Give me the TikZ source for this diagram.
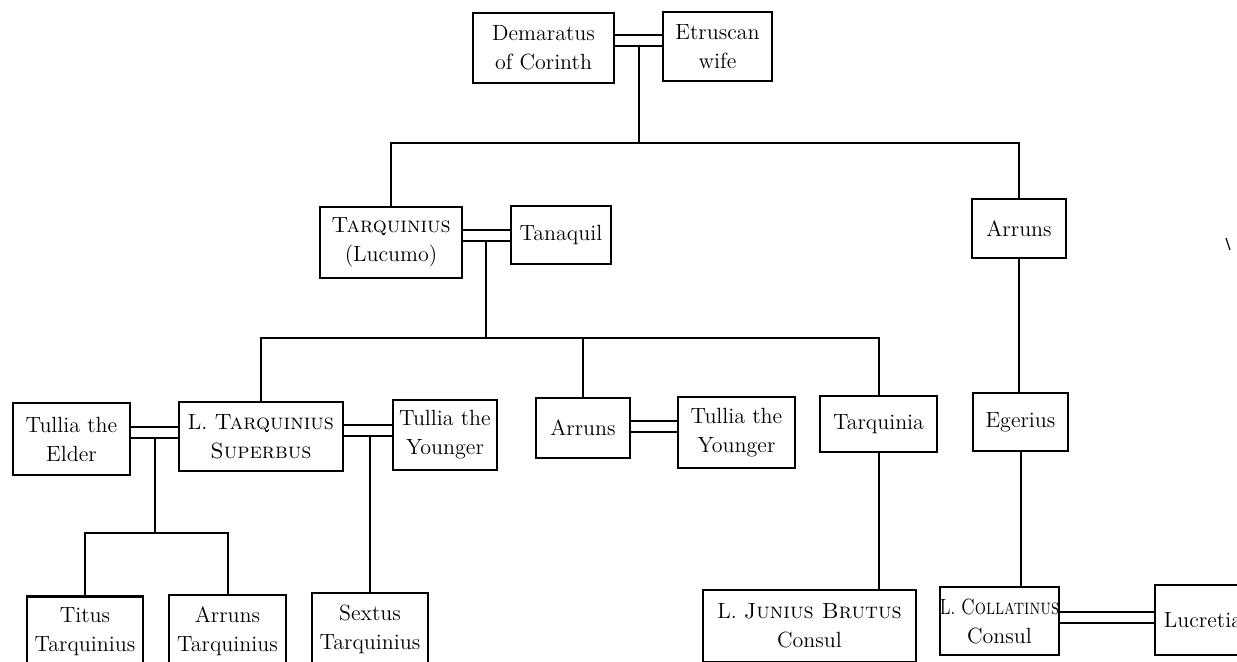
\documentclass[tikz,border=0pt]{standalone}
\usetikzlibrary{backgrounds}
\begin{document}
\begin{tikzpicture}[x=0.5pt,y=-0.5pt,
  person/.style={draw, line width=1.3pt, fill=white, inner ysep=0pt, inner xsep=2pt,
    align=center, font=\fontsize{11}{14.5}\selectfont},
  kin/.style={line width=1pt},
  wed/.style={line width=1pt, double=white, double distance=4.5pt}]
\path[use as bounding box, clip] (0,0) rectangle (1237,662);

% first generation
\node[person, minimum width=70.5pt, minimum height=35pt]   (dem)   at (543.5,48)  {Demaratus\\of Corinth};
\node[person, minimum width=54.5pt, minimum height=34.5pt] (etr)   at (717.5,46.5) {Etruscan\\wife};

% second generation
\node[person, minimum width=71pt,   minimum height=35.5pt] (tarq)  at (391,242.5) {\textsc{Tarquinius}\\(Lucumo)};
\node[person, minimum width=50pt,   minimum height=29pt]   (tana)  at (561,235)   {Tanaquil};
\node[person, minimum width=47pt,   minimum height=29.5pt] (arra)  at (1019,228.5) {Arruns};

% third generation
\node[person, minimum width=58.5pt, minimum height=36pt]   (elder) at (71.5,439)  {Tullia the\\Elder};
\node[person, minimum width=82pt,   minimum height=34.5pt] (sup)   at (261,436.5) {L. \textsc{Tarquinius}\\\textsc{Superbus}};
\node[person, minimum width=52pt,   minimum height=35pt]   (tyl)   at (445,435)   {Tullia the\\Younger};
\node[person, minimum width=47pt,   minimum height=30pt]   (arrb)  at (583,428)   {Arruns};
\node[person, minimum width=58.5pt, minimum height=35.5pt] (tyr)   at (736.5,432.5) {Tullia the\\Younger};
\node[person, minimum width=58.5pt, minimum height=28pt]   (tarqa) at (878.5,424) {Tarquinia};
\node[person, minimum width=47.5pt, minimum height=29pt]   (eger)  at (1020.5,422) {Egerius};

% fourth generation
\node[person, minimum width=58pt,   minimum height=35.5pt] (titus) at (85,632)    {Titus\\Tarquinius};
\node[person, minimum width=58.5pt, minimum height=36pt]   (arrt)  at (227.5,631) {Arruns\\Tarquinius};
\node[person, minimum width=58pt,   minimum height=36pt]   (sext)  at (370,629)   {Sextus\\Tarquinius};
\node[person, minimum width=106.5pt,minimum height=36pt]   (brut)  at (809.5,626) {L. \textsc{Junius Brutus}\\Consul};
\node[person, minimum width=58.5pt, minimum height=34pt, inner xsep=0pt] (coll) at (999.5,621)
  {\scalebox{0.8}[1]{L. \textsc{Collatinus}}\\Consul};
\node[person, minimum width=48pt,   minimum height=35pt]   (lucr)  at (1203,620)  {Lucretia};

\begin{scope}[on background layer]
  % descent lines
  \coordinate (c0) at (639,41);
  \coordinate (b0) at (639,143);
  \draw[kin] (c0) -- (b0);
  \draw[kin] (tarq.north) -- (tarq.north |- b0) -- (arra.north |- b0) -- (arra.north);

  \coordinate (c1) at (486,236);
  \coordinate (b1) at (486,338);
  \draw[kin] (c1) -- (b1);
  \draw[kin] (sup.north) -- (sup.north |- b1) -- (tarqa.north |- b1) -- (tarqa.north);
  \draw[kin] (arrb.north) -- (arrb.north |- b1);

  \coordinate (c2) at (155,432.5);
  \coordinate (b2) at (155,533);
  \draw[kin] (c2) -- (b2);
  \draw[kin] (titus.north) -- (titus.north |- b2) -- (arrt.north |- b2) -- (arrt.north);

  \coordinate (c3) at (370,430.5);
  \draw[kin] (c3) -- (c3 |- sext.north);

  \coordinate (c4) at (654,427);
  \coordinate (c5) at (1100,617);

  \draw[kin] (tarqa.south) -- (tarqa.south |- brut.north);
  \draw[kin] (arra.south) -- (arra.south |- eger.north);
  \draw[kin] (eger.south) -- (eger.south |- coll.north);

  % marriages
  \draw[wed] (dem.east |- c0) -- (etr.west |- c0);
  \draw[wed] (tarq.east |- c1) -- (tana.west |- c1);
  \draw[wed] (elder.east |- c2) -- (sup.west |- c2);
  \draw[wed] (sup.east |- c3) -- (tyl.west |- c3);
  \draw[wed] (arrb.east |- c4) -- (tyr.west |- c4);
  \draw[wed] (coll.east |- c5) -- (lucr.west |- c5);
\end{scope}

% small stray stroke at the right margin
\draw[line width=0.6pt] (1226,238) -- (1230,250);
\end{tikzpicture}
\end{document}
